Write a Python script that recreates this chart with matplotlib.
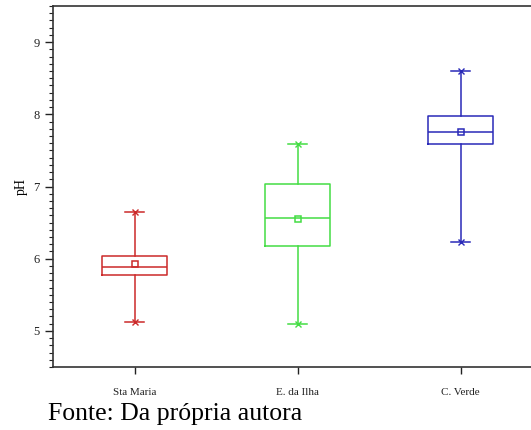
import numpy as np
import matplotlib.pyplot as plt
from matplotlib.ticker import MultipleLocator

# data (pH by site)
sites = ['Sta Maria', 'E. da Ilha', 'C. Verde']
whislo = [5.13, 5.09, 6.23]
q1 = [5.78, 6.18, 7.59]
med = [5.88, 6.57, 7.76]
q3 = [6.04, 7.03, 7.98]
whishi = [6.65, 7.59, 8.60]
means = [5.93, 6.55, 7.75]
colors = ['#cc2a2a', '#44dd44', '#2a2ab8']

plt.rcParams['font.family'] = ['Liberation Serif', 'DejaVu Serif']

fig = plt.figure(figsize=(5.31, 4.30), dpi=100)
ax = fig.add_axes([53/531, 63/430, 489/531, 361/430])

pos = np.arange(1, len(sites) + 1)
for i in range(len(sites)):
    stats = [dict(med=med[i], q1=q1[i], q3=q3[i], whislo=whislo[i], whishi=whishi[i],
                  mean=means[i], fliers=[], label=sites[i])]
    c = colors[i]
    ax.bxp(stats, positions=[pos[i]], widths=0.4, showmeans=True, meanline=False,
           boxprops=dict(color=c, linewidth=1.1),
           medianprops=dict(color=c, linewidth=1.1),
           whiskerprops=dict(color=c, linewidth=1.1),
           capprops=dict(color=c, linewidth=1.1),
           meanprops=dict(marker='s', markersize=4, markerfacecolor='none',
                          markeredgecolor=c, markeredgewidth=1.1),
           capwidths=0.12)
    # star-like markers at the whisker ends
    ax.plot([pos[i], pos[i]], [whislo[i], whishi[i]], linestyle='none', marker='x',
            markersize=5, color=c, markeredgewidth=1.0)

ax.set_xlim(0.5, 3.5)
ax.set_ylim(4.5, 9.5)
ax.set_xticks(pos)
ax.set_xticklabels(sites, fontsize=8)
ax.yaxis.set_major_locator(MultipleLocator(1))
ax.yaxis.set_minor_locator(MultipleLocator(0.1))
ax.tick_params(axis='y', which='major', length=6, width=1, labelsize=9, colors='#222222')
ax.tick_params(axis='y', which='minor', length=3, width=0.8, colors='#222222')
ax.tick_params(axis='x', which='major', length=5, width=1, pad=10, colors='#222222')
ax.set_ylabel('pH', fontsize=10)

for s in ['left', 'bottom', 'top']:
    ax.spines[s].set_color('#333333')
    ax.spines[s].set_linewidth(1.2)
ax.spines['right'].set_visible(False)

fig.text(48/531, 1 - 420/430, 'Fonte: Da própria autora', fontsize=18.5, va='baseline', ha='left')

plt.savefig('out.png', dpi=100)
